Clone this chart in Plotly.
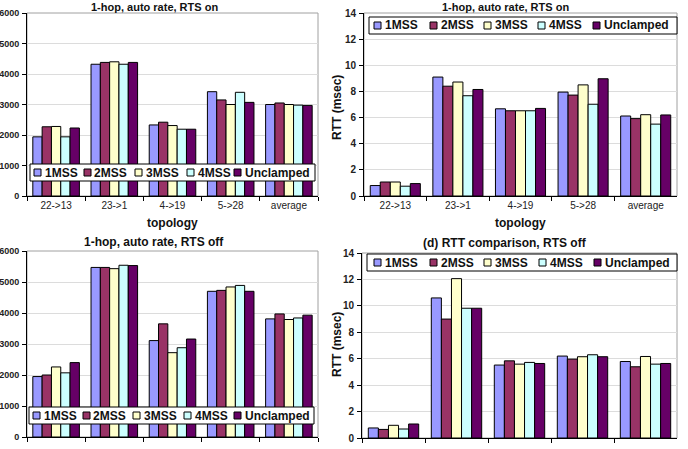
import plotly.graph_objects as go

# ---------------- data ----------------
categories = ["22->13", "23->1", "4->19", "5->28", "average"]
series = ["1MSS", "2MSS", "3MSS", "4MSS", "Unclamped"]
colors = ["#9999FF", "#993366", "#FFFFCC", "#CCFFFF", "#660066"]

# (a) throughput, RTS on (Kbps) - one row per series
thr_rts_on = [
    [1940, 4320, 2330, 3420, 3000],
    [2270, 4380, 2420, 3150, 3050],
    [2280, 4400, 2310, 3000, 3000],
    [1940, 4320, 2190, 3400, 2980],
    [2230, 4380, 2190, 3070, 2970],
]
# (b) RTT, RTS on (msec)
rtt_rts_on = [
    [0.80, 9.10, 6.67, 7.95, 6.12],
    [1.07, 8.40, 6.52, 7.72, 5.92],
    [1.07, 8.72, 6.52, 8.50, 6.22],
    [0.75, 7.67, 6.52, 7.02, 5.50],
    [0.95, 8.15, 6.70, 8.97, 6.20],
]
# (c) throughput, RTS off (Kbps)
thr_rts_off = [
    [1950, 5470, 3110, 4700, 3810],
    [2000, 5470, 3650, 4730, 3970],
    [2260, 5430, 2720, 4840, 3790],
    [2070, 5540, 2880, 4890, 3840],
    [2400, 5530, 3160, 4700, 3930],
]
# (d) RTT, RTS off (msec)
rtt_rts_off = [
    [0.76, 10.60, 5.52, 6.20, 5.79],
    [0.65, 9.00, 5.84, 5.97, 5.39],
    [0.96, 12.06, 5.59, 6.15, 6.17],
    [0.68, 9.82, 5.72, 6.30, 5.59],
    [1.06, 9.82, 5.64, 6.15, 5.64],
]

titles = ["1-hop, auto rate, RTS on", "1-hop, auto rate, RTS on",
          "1-hop, auto rate, RTS off", "(d) RTT comparison, RTS off"]
x_title = "topology"
rtt_title = "RTT (msec)"

# ---------------- layout geometry (pixels) ----------------
W, H = 688, 449
def fx(x): return x / W
def fy(y): return 1 - y / H

panels = [
    dict(data=thr_rts_on, x0=27, x1=318, yt=13, yb=196, ymax=6000, dtick=1000,
         tx=154, ty=0, tanchor="top", tfs=11, xt_y=223, ytitle=None,
         xlabels=True, yfs=9,
         leg=(30, 315, 164, 181), sw=[34, 84, 135, 187, 234]),
    dict(data=rtt_rts_on, x0=364, x1=677, yt=13, yb=196, ymax=14, dtick=2,
         tx=505, ty=0, tanchor="top", tfs=11, xt_y=223, ytitle=(337, 108),
         xlabels=True, yfs=10,
         leg=(369, 677, 17, 34), sw=[374, 430, 484, 538, 593]),
    dict(data=thr_rts_off, x0=27, x1=318, yt=251, yb=437, ymax=6000, dtick=1000,
         tx=154, ty=242, tanchor="middle", tfs=12, xt_y=None, ytitle=None,
         xlabels=False, yfs=9,
         leg=(29, 314, 407, 424), sw=[33, 83, 133, 184, 234]),
    dict(data=rtt_rts_off, x0=362, x1=677, yt=253, yb=438, ymax=14, dtick=2,
         tx=505, ty=243, tanchor="middle", tfs=12, xt_y=None, ytitle=(337, 345),
         xlabels=False, yfs=10,
         leg=(367, 677, 254, 271), sw=[374, 430, 484, 539, 594]),
]

FONT = "Liberation Sans, Arial, sans-serif"

fig = go.Figure()
shapes = []
annotations = []

for i, p in enumerate(panels):
    n = i + 1
    xa = "x" if n == 1 else f"x{n}"
    ya = "y" if n == 1 else f"y{n}"
    for s, name in enumerate(series):
        fig.add_trace(go.Bar(
            x=categories, y=p["data"][s], name=name, xaxis=xa, yaxis=ya,
            marker=dict(color=colors[s], line=dict(color="black", width=1)),
            showlegend=False,
        ))
    xkey = "xaxis" if n == 1 else f"xaxis{n}"
    ykey = "yaxis" if n == 1 else f"yaxis{n}"
    fig.update_layout(**{
        xkey: dict(domain=[fx(p["x0"]), fx(p["x1"])], anchor=ya,
                   type="category", range=[-0.5, 4.5], automargin=False,
                   showline=True, linecolor="black", linewidth=1,
                   ticks="outside", tickson="boundaries", ticklen=4,
                   tickcolor="black", showgrid=False, zeroline=False,
                   showticklabels=p["xlabels"],
                   tickfont=dict(family=FONT, size=10, color="#222")),
        ykey: dict(domain=[fy(p["yb"]), fy(p["yt"])], anchor=xa,
                   range=[0, p["ymax"]], dtick=p["dtick"], tick0=0,
                   automargin=False,
                   showline=True, linecolor="black", linewidth=1,
                   ticks="outside", ticklen=4, tickcolor="black",
                   showgrid=True, gridcolor="#dcdcdc", gridwidth=1,
                   zeroline=False, ticklabelstandoff=1,
                   tickfont=dict(family=FONT, size=p["yfs"], color="#222",
                                 weight="bold")),
    })
    # plot-area border (gray)
    shapes.append(dict(type="rect", xref="paper", yref="paper",
                       x0=fx(p["x0"]), x1=fx(p["x1"]),
                       y0=fy(p["yb"]), y1=fy(p["yt"]),
                       line=dict(color="#a0a0a0", width=1), layer="below"))
    # title
    annotations.append(dict(text=titles[i], xref="paper", yref="paper",
                            x=fx(p["tx"]), y=fy(p["ty"]), xanchor="center",
                            yanchor=p["tanchor"], showarrow=False, borderpad=0,
                            font=dict(family=FONT, size=p["tfs"], color="#111",
                                      weight="bold")))
    if p["xt_y"] is not None:
        annotations.append(dict(text=x_title, xref="paper", yref="paper",
                                x=fx((p["x0"] + p["x1"]) / 2), y=fy(p["xt_y"]),
                                xanchor="center", yanchor="middle",
                                showarrow=False,
                                font=dict(family=FONT, size=12, color="#111",
                                          weight="bold")))
    if p["ytitle"] is not None:
        annotations.append(dict(text=rtt_title, xref="paper", yref="paper",
                                x=fx(p["ytitle"][0]), y=fy(p["ytitle"][1]),
                                xanchor="center", yanchor="middle",
                                textangle=-90, showarrow=False,
                                font=dict(family=FONT, size=12, color="#111",
                                          weight="bold")))
    # legend box
    lx0, lx1, ly0, ly1 = p["leg"]
    shapes.append(dict(type="rect", xref="paper", yref="paper",
                       x0=fx(lx0), x1=fx(lx1), y0=fy(ly1), y1=fy(ly0),
                       fillcolor="white", line=dict(color="black", width=1),
                       layer="above"))
    cy = (ly0 + ly1) / 2
    for s, name in enumerate(series):
        sx = p["sw"][s]
        shapes.append(dict(type="rect", xref="paper", yref="paper",
                           x0=fx(sx), x1=fx(sx + 7),
                           y0=fy(cy + 3.5), y1=fy(cy - 3.5),
                           fillcolor=colors[s],
                           line=dict(color="black", width=1), layer="above"))
        annotations.append(dict(text=name, xref="paper", yref="paper",
                                x=fx(sx + 8.5), y=fy(cy), xanchor="left",
                                yanchor="middle", showarrow=False,
                                font=dict(family=FONT, size=12, color="#111",
                                          weight="bold")))

fig.update_layout(
    width=W, height=H, margin=dict(l=0, r=0, t=0, b=0, pad=0),
    paper_bgcolor="white", plot_bgcolor="white",
    barmode="group", bargap=0.2, bargroupgap=0,
    shapes=shapes, annotations=annotations, showlegend=False,
    font=dict(family=FONT),
)

fig.write_html("out.html")
